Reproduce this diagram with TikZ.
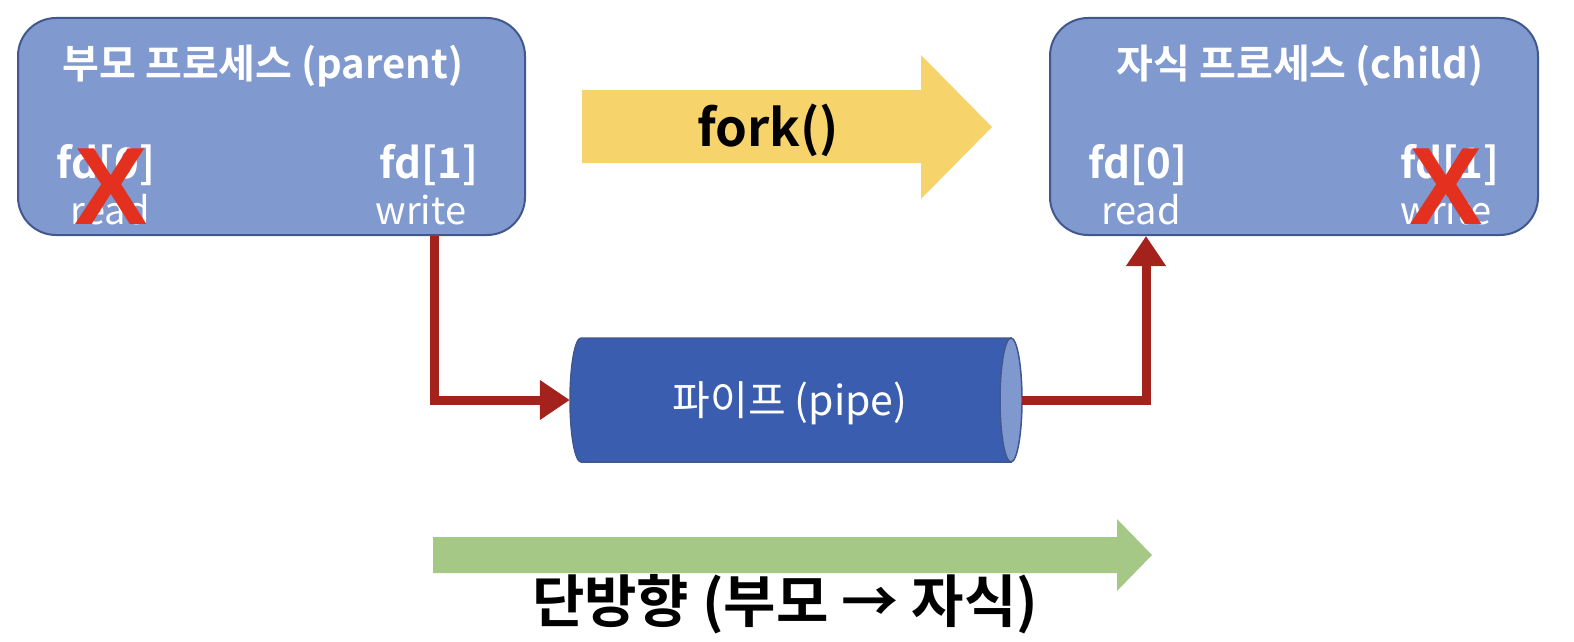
\documentclass[tikz,border=0pt]{standalone}
\usepackage{fontspec}
\setmainfont{Noto Sans CJK KR}
\newfontfamily\krb{Noto Sans CJK KR Bold}
\newfontfamily\xfont{Liberation Sans}
\usetikzlibrary{arrows.meta,shapes.geometric}
\definecolor{boxfill}{HTML}{8099CF}
\definecolor{boxdraw}{HTML}{41588E}
\definecolor{pipebody}{HTML}{3B5DAF}
\definecolor{pipeend}{HTML}{7F98CE}
\definecolor{redline}{HTML}{A3221C}
\definecolor{redx}{HTML}{E3301F}
\definecolor{forkyel}{HTML}{F7D36C}
\definecolor{dirgreen}{HTML}{A6C887}
\tikzset{
  procbox/.style={draw=boxdraw, line width=2pt, fill=boxfill, rounded corners=38pt, inner sep=0pt},
  titletxt/.style={text=white, font=\krb\fontsize{40}{44}\selectfont, inner sep=0pt},
  fdtxt/.style={text=white, font=\krb\fontsize{42}{46}\selectfont, inner sep=0pt},
  rwtxt/.style={text=white, font=\fontsize{38}{42}\selectfont, inner sep=0pt},
  crossx/.style={text=redx, font=\xfont\bfseries\fontsize{110}{110}\selectfont, inner sep=0pt},
  conn/.style={draw=redline, line width=9pt, -{Triangle[length=30pt,width=38pt]}},
}
\begin{document}
\begin{tikzpicture}[x=1pt,y=-1pt]
\useasboundingbox (0,0) rectangle (1574,642);
% process boxes
\node[procbox, minimum width=507pt, minimum height=217pt] (parent) at (271.5,126.5) {};
\node[procbox, minimum width=488pt, minimum height=217pt] (child) at (1294,126.5) {};
% parent texts
\node[titletxt] (ptitle) at (263,66) {부모 프로세스 (parent)};
\node[fdtxt] (pfd0) at (106,165) {fd[0]};
\node[rwtxt] (pread) at (110,210) {read};
\node[fdtxt] (pfd1) at (429,165) {fd[1]};
\node[rwtxt] (pwrite) at (421,210) {write};
\node[crossx] (px) at (111,187) {X};
% child texts
\node[titletxt] (ctitle) at (1300,66) {자식 프로세스 (child)};
\node[fdtxt] (cfd0) at (1138,165) {fd[0]};
\node[rwtxt] (cread) at (1141,210) {read};
\node[fdtxt] (cfd1) at (1450,165) {fd[1]};
\node[rwtxt] (cwrite) at (1446,210) {write};
\node[crossx] (cx) at (1446,187) {X};
% fork arrow
\fill[forkyel] (582,90) -- (921,90) -- (921,55) -- (992,127) -- (921,199) -- (921,163) -- (582,163) -- cycle;
\node[font=\krb\fontsize{51}{55}\selectfont, inner sep=0pt] (fork) at (768,130) {fork()};
% pipe
\fill[pipebody, draw=boxdraw, line width=1.5pt]
  (1011,338) -- (581,338) arc[start angle=90, end angle=270, x radius=11, y radius=-62] -- (1011,462) -- cycle;
\filldraw[fill=pipeend, draw=boxdraw, line width=1.5pt] (1011,400) ellipse[x radius=11, y radius=62];
\node[minimum width=452pt, minimum height=124pt, inner sep=0pt] (pipe) at (796,400) {};
\node[text=white, font=\fontsize{41}{45}\selectfont, inner sep=0pt] (pipelbl) at (790,403) {파이프 (pipe)};
% connectors
\coordinate (ws) at (434,236);
\coordinate (rs) at (1146,236);
\draw[conn] (ws) |- (pipe.west);
\draw[conn] (pipe.east) -| (rs);
% direction arrow
\fill[dirgreen] (433,537) -- (1117,537) -- (1117,519) -- (1152,555) -- (1117,591) -- (1117,573) -- (433,573) -- cycle;
\node[font=\krb\fontsize{57}{62}\selectfont, inner sep=0pt] (dir) at (785,604) {단방향 (부모 → 자식)};
\end{tikzpicture}
\end{document}
